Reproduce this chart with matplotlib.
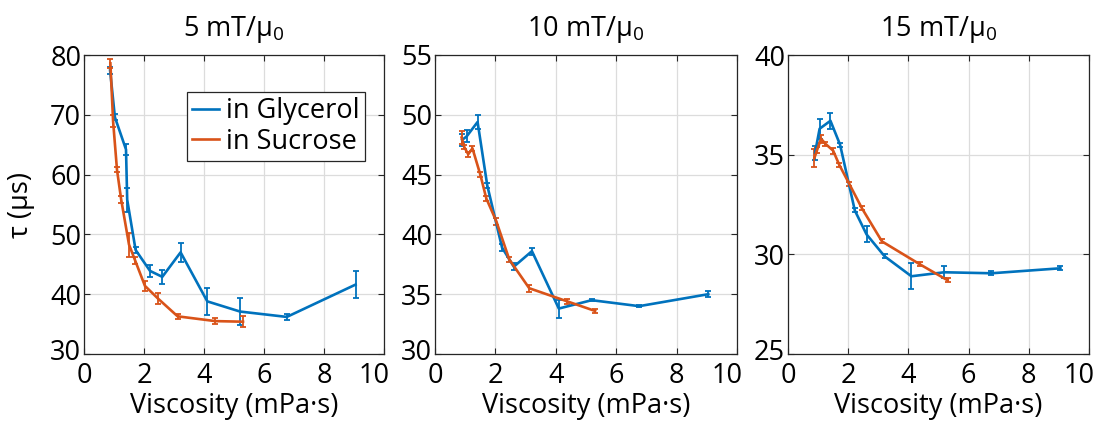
import numpy as np
import matplotlib
matplotlib.use('Agg')
import matplotlib.pyplot as plt
import matplotlib.transforms as mtransforms
from matplotlib.lines import Line2D

plt.rcParams['font.family'] = ['Open Sans', 'DejaVu Sans']
plt.rcParams['mathtext.fontset'] = 'custom'
plt.rcParams['mathtext.rm'] = 'Open Sans'
plt.rcParams['mathtext.it'] = 'Open Sans:italic'

# viscosities (mPa s)
gly5_x = [0.87, 1.03, 1.40, 1.44, 1.72, 2.20, 2.61, 3.22, 4.11, 5.20, 6.76, 9.05]
gly_x = [0.90, 1.05, 1.41, 1.73, 2.22, 2.61, 3.21, 4.10, 5.19, 6.76, 9.05]
suc_x = [0.88, 0.97, 1.10, 1.24, 1.50, 1.70, 2.03, 2.46, 3.12, 4.38, 5.30]

# tau (us), 5 mT
gly5_y = [77.4, 69.6, 64.2, 55.8, 47.4, 43.9, 42.9, 47.0, 38.8, 37.1, 36.2, 41.6]
gly5_e = [0.6, 0.5, 0.9, 2.0, 0.5, 1.0, 1.2, 1.6, 2.3, 2.3, 0.5, 2.3]
suc5_y = [78.6, 68.9, 60.8, 55.8, 48.3, 45.7, 41.4, 39.3, 36.3, 35.5, 35.4]
suc5_e = [0.8, 1.0, 0.4, 0.6, 2.0, 0.6, 0.8, 0.9, 0.4, 0.5, 0.9]

# 10 mT
gly10_y = [47.9, 48.2, 49.4, 44.1, 38.9, 37.3, 38.6, 33.8, 34.5, 34.0, 35.0]
gly10_e = [0.5, 0.5, 0.55, 0.2, 0.3, 0.3, 0.3, 0.75, 0.1, 0.1, 0.25]
suc10_y = [48.1, 47.3, 46.7, 47.2, 45.0, 43.0, 41.1, 37.9, 35.5, 34.4, 33.6]
suc10_e = [0.55, 0.2, 0.2, 0.2, 0.2, 0.2, 0.3, 0.2, 0.3, 0.2, 0.15]

# 15 mT
gly15_y = [35.1, 36.3, 36.7, 35.5, 32.2, 31.0, 29.9, 28.9, 29.1, 29.05, 29.3]
gly15_e = [0.35, 0.5, 0.4, 0.1, 0.1, 0.4, 0.1, 0.65, 0.3, 0.1, 0.1]
suc15_y = [34.85, 35.25, 35.8, 35.55, 35.2, 34.5, 33.55, 32.3, 30.65, 29.5, 28.7]
suc15_e = [0.45, 0.15, 0.2, 0.1, 0.15, 0.1, 0.1, 0.1, 0.1, 0.1, 0.1]

titles = ['5 mT/μ$_0$', '10 mT/μ$_0$', '15 mT/μ$_0$']
ylims = [(30, 80), (30, 55), (25, 40)]
ysteps = [10, 5, 5]

blue = '#0072BD'
orange = '#D95319'
fs = 19.5

fig = plt.figure(figsize=(10.99, 4.22), dpi=100)
lefts = [84, 435, 788]
widths = [300, 302, 301]

panels = [
    (gly5_x, gly5_y, gly5_e, suc5_y, suc5_e),
    (gly_x, gly10_y, gly10_e, suc10_y, suc10_e),
    (gly_x, gly15_y, gly15_e, suc15_y, suc15_e),
]


def shift(label, dx, dy):
    label.set_transform(label.get_transform() +
                        mtransforms.ScaledTranslation(dx / 100, dy / 100, fig.dpi_scale_trans))


for i, (gx, gy, ge, sy, se) in enumerate(panels):
    ax = fig.add_axes([lefts[i] / 1099, 68 / 422, widths[i] / 1099, 299 / 422])
    ax.errorbar(gx, gy, yerr=ge, color=blue, lw=1.9, elinewidth=1.3,
                capsize=2.2, capthick=1.3)
    ax.errorbar(suc_x, sy, yerr=se, color=orange, lw=1.9, elinewidth=1.3,
                capsize=2.2, capthick=1.3)

    ax.set_xlim(0, 10)
    ax.set_ylim(*ylims[i])
    ax.set_xticks(np.arange(0, 11, 2))
    ax.set_yticks(np.arange(ylims[i][0], ylims[i][1] + 1, ysteps[i]))
    ax.grid(True, color='#dcdcdc', lw=0.9)
    ax.set_axisbelow(True)
    ax.tick_params(direction='in', length=4, width=0.8, top=True, right=True,
                   labelsize=fs, colors='#262626', pad=2)
    ax.tick_params(axis='x', pad=5.5)
    ax.tick_params(labelcolor='black')
    for s in ax.spines.values():
        s.set_color('#262626')
        s.set_linewidth(0.9)
    # end labels nudged like the original export
    shift(ax.get_xticklabels()[-1], -10, 0)
    shift(ax.get_yticklabels()[0], 0, 5)
    ax.set_xlabel('Viscosity (mPa·s)', fontsize=fs, labelpad=1.5)
    ax.set_title(titles[i], fontsize=fs, pad=14)
    if i == 0:
        ax.set_ylabel('τ (μs)', fontsize=fs, labelpad=11)
        handles = [Line2D([], [], color=blue, lw=1.9),
                   Line2D([], [], color=orange, lw=1.9)]
        leg = ax.legend(handles, ['in Glycerol', 'in Sucrose'],
                        loc='upper right', bbox_to_anchor=(0.937, 0.876),
                        fontsize=fs, handlelength=1.0, handletextpad=0.25,
                        borderpad=0.2, borderaxespad=0, labelspacing=0.08,
                        fancybox=False, framealpha=1)
        leg.get_frame().set_edgecolor('#262626')
        leg.get_frame().set_linewidth(0.9)

fig.savefig('out.png', dpi=100)
